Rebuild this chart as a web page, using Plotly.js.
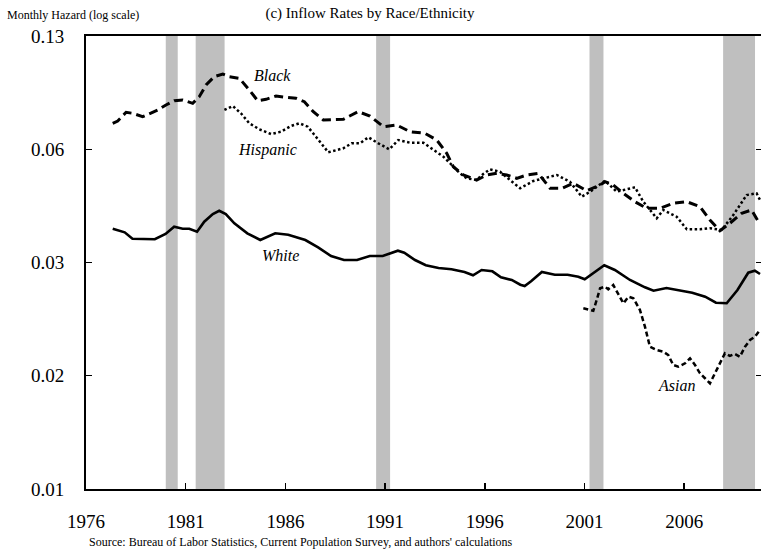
<!DOCTYPE html>
<html>
<head>
<meta charset="utf-8">
<script src="https://cdn.plot.ly/plotly-3.0.1.min.js"></script>
<style>
html,body{margin:0;padding:0;overflow:hidden;background:#fff;}
#chart{width:765px;height:555px;}
</style>
</head>
<body>
<div id="chart"></div>
<script>
// ---- data ----
const whiteYear = [1977.34,1977.94,1978.33,1978.80,1979.45,1979.99,1980.42,1980.85,1981.18,1981.57,1981.93,1982.36,1982.68,1983.01,1983.44,1984.09,1984.74,1985.49,1986.14,1987.00,1987.64,1988.29,1988.94,1989.59,1990.23,1990.88,1991.64,1991.96,1992.50,1993.04,1993.68,1994.33,1994.98,1995.41,1995.84,1996.38,1996.81,1997.35,1997.78,1998.00,1998.32,1998.86,1999.51,2000.15,2000.69,2001.01,2001.45,2001.99,2002.52,2003.28,2004.03,2004.46,2005.11,2005.76,2006.40,2007.05,2007.59,2008.13,2008.67,2009.21,2009.54,2009.80];
const whiteVal = [0.04366,0.04278,0.04126,0.04126,0.04112,0.04237,0.04415,0.04366,0.04366,0.04292,0.04543,0.04745,0.04834,0.04745,0.04502,0.04254,0.04095,0.04254,0.04220,0.04095,0.03929,0.03740,0.03657,0.03657,0.03740,0.03740,0.03855,0.03811,0.03657,0.03549,0.03495,0.03469,0.03417,0.03353,0.03456,0.03430,0.03315,0.03266,0.03180,0.03156,0.03241,0.03417,0.03365,0.03365,0.03327,0.03278,0.03391,0.03549,0.03456,0.03266,0.03133,0.03073,0.03121,0.03073,0.03039,0.02971,0.02871,0.02862,0.03085,0.03403,0.03442,0.03378];

const blackYear = [1977.34,1977.59,1978.01,1978.34,1978.84,1979.26,1979.60,1980.01,1980.43,1980.85,1981.35,1981.68,1982.02,1982.43,1982.86,1983.19,1983.69,1984.19,1984.61,1985.03,1985.53,1986.03,1986.53,1986.95,1987.40,1987.90,1988.40,1988.90,1989.65,1990.24,1990.91,1991.58,1992.25,1993.00,1993.59,1994.09,1994.42,1994.92,1995.59,1996.10,1996.60,1997.10,1997.60,1998.10,1998.68,1999.27,1999.86,2000.44,2001.11,2001.78,2002.03,2002.44,2002.95,2003.53,2004.12,2004.79,2005.45,2006.13,2006.79,2007.29,2007.79,2008.29,2008.88,2009.38,2009.72];
const blackVal = [0.07930,0.08034,0.08440,0.08392,0.08232,0.08421,0.08551,0.08796,0.09013,0.09048,0.08881,0.09219,0.09850,0.10324,0.10483,0.10324,0.10231,0.09575,0.09013,0.09084,0.09256,0.09188,0.09136,0.08962,0.08469,0.08080,0.08080,0.08111,0.08469,0.08265,0.07779,0.07854,0.07561,0.07493,0.07214,0.06690,0.06202,0.05917,0.05752,0.05917,0.05974,0.05917,0.05808,0.05917,0.05974,0.05488,0.05488,0.05646,0.05414,0.05592,0.05697,0.05592,0.05335,0.05087,0.04901,0.04901,0.05041,0.05087,0.04945,0.04586,0.04317,0.04502,0.04764,0.04853,0.04543];

const hispYear = [1982.94,1983.36,1983.77,1984.19,1984.69,1985.28,1985.78,1986.28,1986.70,1987.12,1987.53,1988.15,1988.90,1989.32,1989.74,1990.16,1990.66,1991.21,1991.66,1992.25,1992.92,1993.42,1993.92,1994.34,1994.76,1995.09,1995.59,1995.92,1996.26,1996.76,1997.18,1997.77,1998.43,1999.10,1999.61,2000.27,2000.86,2001.28,2002.03,2002.61,2003.53,2003.95,2004.62,2004.95,2005.62,2006.13,2006.79,2007.29,2007.88,2008.46,2009.13,2009.63,2009.80];
const hispVal = [0.08551,0.08746,0.08392,0.07930,0.07665,0.07463,0.07561,0.07810,0.07930,0.07779,0.07350,0.06729,0.06883,0.07080,0.07080,0.07325,0.07080,0.06844,0.07214,0.07104,0.07104,0.06816,0.06563,0.06262,0.05974,0.05808,0.05752,0.05951,0.06111,0.06028,0.05808,0.05488,0.05720,0.05818,0.05917,0.05697,0.05233,0.05384,0.05730,0.05384,0.05519,0.05087,0.04631,0.04853,0.04673,0.04351,0.04351,0.04376,0.04334,0.04718,0.05283,0.05335,0.05136];

const asianYear = [2000.94,2001.19,2001.44,2001.61,2001.78,2002.03,2002.19,2002.44,2002.69,2002.95,2003.20,2003.45,2003.78,2004.03,2004.28,2004.62,2004.95,2005.20,2005.45,2005.70,2006.04,2006.29,2006.54,2006.79,2007.04,2007.29,2007.54,2007.79,2008.04,2008.29,2008.54,2008.79,2009.05,2009.30,2009.55,2009.80];
const asianVal = [0.02782,0.02766,0.02744,0.02916,0.03116,0.03144,0.03098,0.03174,0.03029,0.02862,0.02971,0.02944,0.02755,0.02507,0.02238,0.02197,0.02176,0.02135,0.02018,0.01999,0.02037,0.02096,0.02018,0.01925,0.01872,0.01819,0.01925,0.02037,0.02156,0.02124,0.02148,0.02115,0.02238,0.02325,0.02369,0.02460];

const recessionStart = [1980.0, 1981.5, 1990.55, 2001.25, 2007.95];
const recessionEnd   = [1980.6, 1982.95, 1991.25, 2001.95, 2009.55];

const yTickVals = [0.01, 0.01899, 0.03606, 0.06846, 0.13];
const yTickText = ['0.01', '0.02', '0.03', '0.06', '0.13'];
const xTickVals = [1976, 1981, 1986, 1991, 1996, 2001, 2006];
const xTickText = ['1976', '1981', '1986', '1991', '1996', '2001', '2006'];

const seriesLabels = ['Black', 'Hispanic', 'White', 'Asian'];
// ---- chart ----
const serif = 'Liberation Serif, Times New Roman, serif';

const traces = [
  {x: whiteYear, y: whiteVal, mode: 'lines', name: 'White',
   line: {color: '#000', width: 2.6, dash: 'solid'}},
  {x: blackYear, y: blackVal, mode: 'lines', name: 'Black',
   line: {color: '#000', width: 3, dash: '9px,5px'}},
  {x: hispYear, y: hispVal, mode: 'lines', name: 'Hispanic',
   line: {color: '#000', width: 2.5, dash: '2.5px,2.5px'}},
  {x: asianYear, y: asianVal, mode: 'lines', name: 'Asian',
   line: {color: '#000', width: 2.5, dash: '5px,3px'}}
];

const shapes = recessionStart.map((s, i) => ({
  type: 'rect', xref: 'x', yref: 'paper', x0: s, x1: recessionEnd[i], y0: 0, y1: 1,
  fillcolor: '#bfbfbf', line: {width: 0}, layer: 'below'
}));

const labelPos = [
  {x: 1985.33, y: 0.1042},
  {x: 1985.08, y: 0.06816},
  {x: 1985.73, y: 0.03762},
  {x: 2005.59, y: 0.01792}
];
const annotations = seriesLabels.map((t, i) => ({
  text: t, xref: 'x', yref: 'y', x: labelPos[i].x, y: Math.log10(labelPos[i].y),
  showarrow: false, font: {family: serif, size: 16, color: '#000', style: 'italic'},
  xanchor: 'center', yanchor: 'middle'
}));
annotations.push({
  text: 'Monthly Hazard (log scale)', xref: 'paper', yref: 'paper',
  x: -0.1198, y: 1.0464, xanchor: 'left', yanchor: 'middle', showarrow: false,
  font: {family: serif, size: 12, color: '#000'}
});
annotations.push({
  text: "Source: Bureau of Labor Statistics, Current Population Survey, and authors' calculations",
  xref: 'paper', yref: 'paper', x: 0.0015, y: -0.117, xanchor: 'left', yanchor: 'middle',
  showarrow: false, font: {family: serif, size: 12, color: '#000'}
});

const layout = {
  width: 765, height: 555,
  margin: {l: 86, r: 3, t: 36, b: 66, pad: 0},
  paper_bgcolor: '#fff', plot_bgcolor: '#fff',
  showlegend: false,
  title: {text: '(c) Inflow Rates by Race/Ethnicity', x: 370/765, xanchor: 'center',
          y: 1 - 13/555, yanchor: 'middle', font: {family: serif, size: 15, color: '#000'}},
  xaxis: {range: [1976, 2009.9], tickvals: xTickVals, ticktext: xTickText,
          showgrid: false, zeroline: false, showline: true, linecolor: '#000', linewidth: 2,
          mirror: true, ticks: 'inside', ticklen: 6, tickwidth: 1.5, tickcolor: '#000',
          ticklabelstandoff: 14, tickfont: {family: serif, size: 19, color: '#000'}},
  yaxis: {type: 'log', range: [Math.log10(0.01), Math.log10(0.13)],
          tickvals: yTickVals, ticktext: yTickText,
          showgrid: false, zeroline: false, showline: true, linecolor: '#000', linewidth: 2,
          mirror: 'ticks', ticks: 'inside', ticklen: 6, tickwidth: 1.5, tickcolor: '#000',
          ticklabelstandoff: 16, tickfont: {family: serif, size: 19, color: '#000'}},
  shapes: shapes,
  annotations: annotations
};

Plotly.newPlot('chart', traces, layout, {staticPlot: true, displayModeBar: false});
</script>
</body>
</html>
